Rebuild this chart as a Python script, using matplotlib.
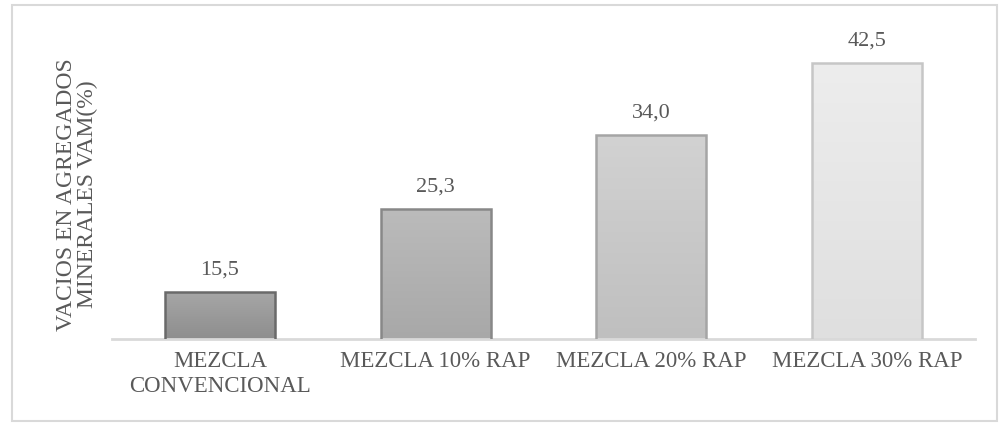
import matplotlib
matplotlib.use("Agg")
import matplotlib.pyplot as plt
import numpy as np
from matplotlib.colors import LinearSegmentedColormap
from matplotlib.patches import Rectangle

categories = ["MEZCLA\nCONVENCIONAL", "MEZCLA 10% RAP", "MEZCLA 20% RAP", "MEZCLA 30% RAP"]
values = [15.5, 25.3, 34.0, 42.5]
value_labels = ["15,5", "25,3", "34,0", "42,5"]
ylabel = "VACIOS EN AGREGADOS\nMINERALES VAM(%)"

fill_top = ["#a6a6a6", "#bbbbbb", "#d2d2d2", "#ededed"]
fill_bot = ["#8e8e8e", "#a8a8a8", "#bfbfbf", "#dfdfdf"]
edges = ["#6a6a6a", "#888888", "#a5a5a5", "#c6c6c6"]

plt.rcParams['font.family'] = ['Liberation Serif', 'DejaVu Serif']
txt = "#595959"

fig = plt.figure(figsize=(10, 4.27), dpi=100)
ax = fig.add_axes([0.112, 0.2037, 0.863, 0.696])

x = np.arange(len(categories))
bars = ax.bar(x, values, width=0.51, bottom=0, color="none",
              edgecolor=edges, linewidth=1.8, zorder=3)

for b, ct, cb in zip(bars, fill_top, fill_bot):
    cmap = LinearSegmentedColormap.from_list("g", [cb, ct])
    x0, w = b.get_x(), b.get_width()
    y1 = b.get_height()
    grad = np.linspace(0, 1, 256).reshape(-1, 1)
    im = ax.imshow(grad, cmap=cmap, origin="lower", aspect="auto",
                   extent=[x0, x0 + w, 10, y1], zorder=2)
    im.set_clip_path(b)

ax.set_xlim(-0.5, 3.5)
ax.set_ylim(10, 45)

for xi, v, lab in zip(x, values, value_labels):
    ax.annotate(lab, (xi, v), xytext=(0, 10), textcoords="offset points",
                ha="center", va="bottom", fontsize=16, color=txt)

ax.set_xticks(x)
ax.set_xticklabels(categories, fontsize=16.5, color=txt, linespacing=1.25)
ax.tick_params(axis="x", length=0, pad=8)
ax.set_yticks([])
for s in ["top", "right", "left"]:
    ax.spines[s].set_visible(False)
ax.spines["bottom"].set_color("#d9d9d9")
ax.spines["bottom"].set_linewidth(2)

fig.text(0.077, 0.545, ylabel, rotation=90, ha="center", va="center",
         fontsize=17, color=txt, linespacing=1.0)

fig.patches.append(Rectangle((0.012, 0.012), 0.985, 0.975, transform=fig.transFigure,
                             fill=False, edgecolor="#d9d9d9", linewidth=1.5))

fig.savefig("out.png", dpi=100)
